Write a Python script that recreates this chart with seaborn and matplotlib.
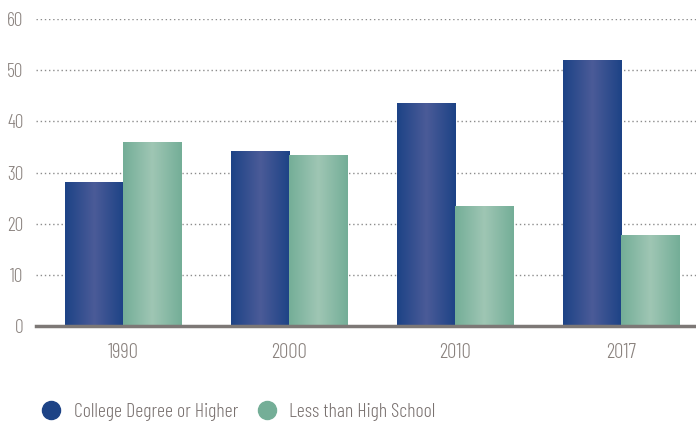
import matplotlib
matplotlib.use("Agg")
import matplotlib.pyplot as plt
import seaborn as sns
import numpy as np
import pandas as pd
from matplotlib.lines import Line2D
from matplotlib.colors import LinearSegmentedColormap

years = ["1990", "2000", "2010", "2017"]
college = [28.1, 34.2, 43.6, 52.0]
less_hs = [36.0, 33.4, 23.5, 17.8]
series_names = ["College Degree or Higher", "Less than High School"]
yticks = [0, 10, 20, 30, 40, 50, 60]

sns.set_theme(style="white")
plt.rcParams["font.family"] = ["Barlow Condensed", "DejaVu Sans"]
plt.rcParams["font.weight"] = 300

df = pd.DataFrame({
    "year": years * 2,
    "value": college + less_hs,
    "series": [series_names[0]] * 4 + [series_names[1]] * 4,
})

edge_cols = ["#1d4386", "#74ae97"]
mid_cols = ["#4b5b98", "#9fc6b4"]

fig = plt.figure(figsize=(6.96, 4.26), dpi=100)
ax = fig.add_axes([36 / 696, 1 - 326 / 426, 1 - 36 / 696, (326 - 19) / 426])
sns.barplot(data=df, x="year", y="value", hue="series", palette=edge_cols,
            width=0.7, ax=ax, legend=False, saturation=1)

for i, cont in enumerate(ax.containers):
    cmap = LinearSegmentedColormap.from_list(
        f"g{i}", [edge_cols[i], mid_cols[i], edge_cols[i]])
    grad = np.linspace(0, 1, 100).reshape(1, -1)
    for p in cont.patches:
        x0, y0 = p.get_x(), p.get_y()
        w, h = p.get_width(), p.get_height()
        im = ax.imshow(grad, cmap=cmap, extent=[x0, x0 + w, y0, y0 + h],
                       aspect="auto", zorder=p.get_zorder() + 0.1, interpolation="bicubic")
        im.set_clip_path(p)

ax.set_xlim(-0.524, 3.45)
ax.set_ylim(0, 60)
ax.set_yticks(yticks)
ax.set_yticklabels([str(t) for t in yticks], fontweight=300)
ax.set_xticks(range(len(years)))
ax.set_xticklabels(years, fontweight=300)
ax.yaxis.grid(True, linestyle=(0, (1, 2)), color="#8c8c8c", linewidth=1.0)
ax.set_axisbelow(True)
for s in ["top", "right", "left"]:
    ax.spines[s].set_visible(False)
ax.spines["bottom"].set_color("#7d7876")
ax.spines["bottom"].set_linewidth(2.5)
ax.spines["bottom"].set_zorder(5)
ax.set_xlabel("")
ax.set_ylabel("")
ax.tick_params(axis="both", length=0, colors="#8a827e")
ax.tick_params(axis="y", pad=9, labelsize=14)
ax.tick_params(axis="x", pad=12, labelsize=15)

handles = [Line2D([0], [0], marker="o", linestyle="", markersize=13,
                  markerfacecolor=c, markeredgecolor=c) for c in edge_cols]
fig.legend(handles, series_names, loc="center left", bbox_to_anchor=(40 / 696, 1 - 412 / 426),
           ncol=2, frameon=False, prop={"family": ["Barlow Condensed", "DejaVu Sans"], "size": 14.3, "weight": 300},
           labelcolor="#7a7270",
           borderaxespad=0, borderpad=0,
           handletextpad=0.57, columnspacing=0.85, handlelength=1.15)

fig.savefig("out.png", dpi=100)
